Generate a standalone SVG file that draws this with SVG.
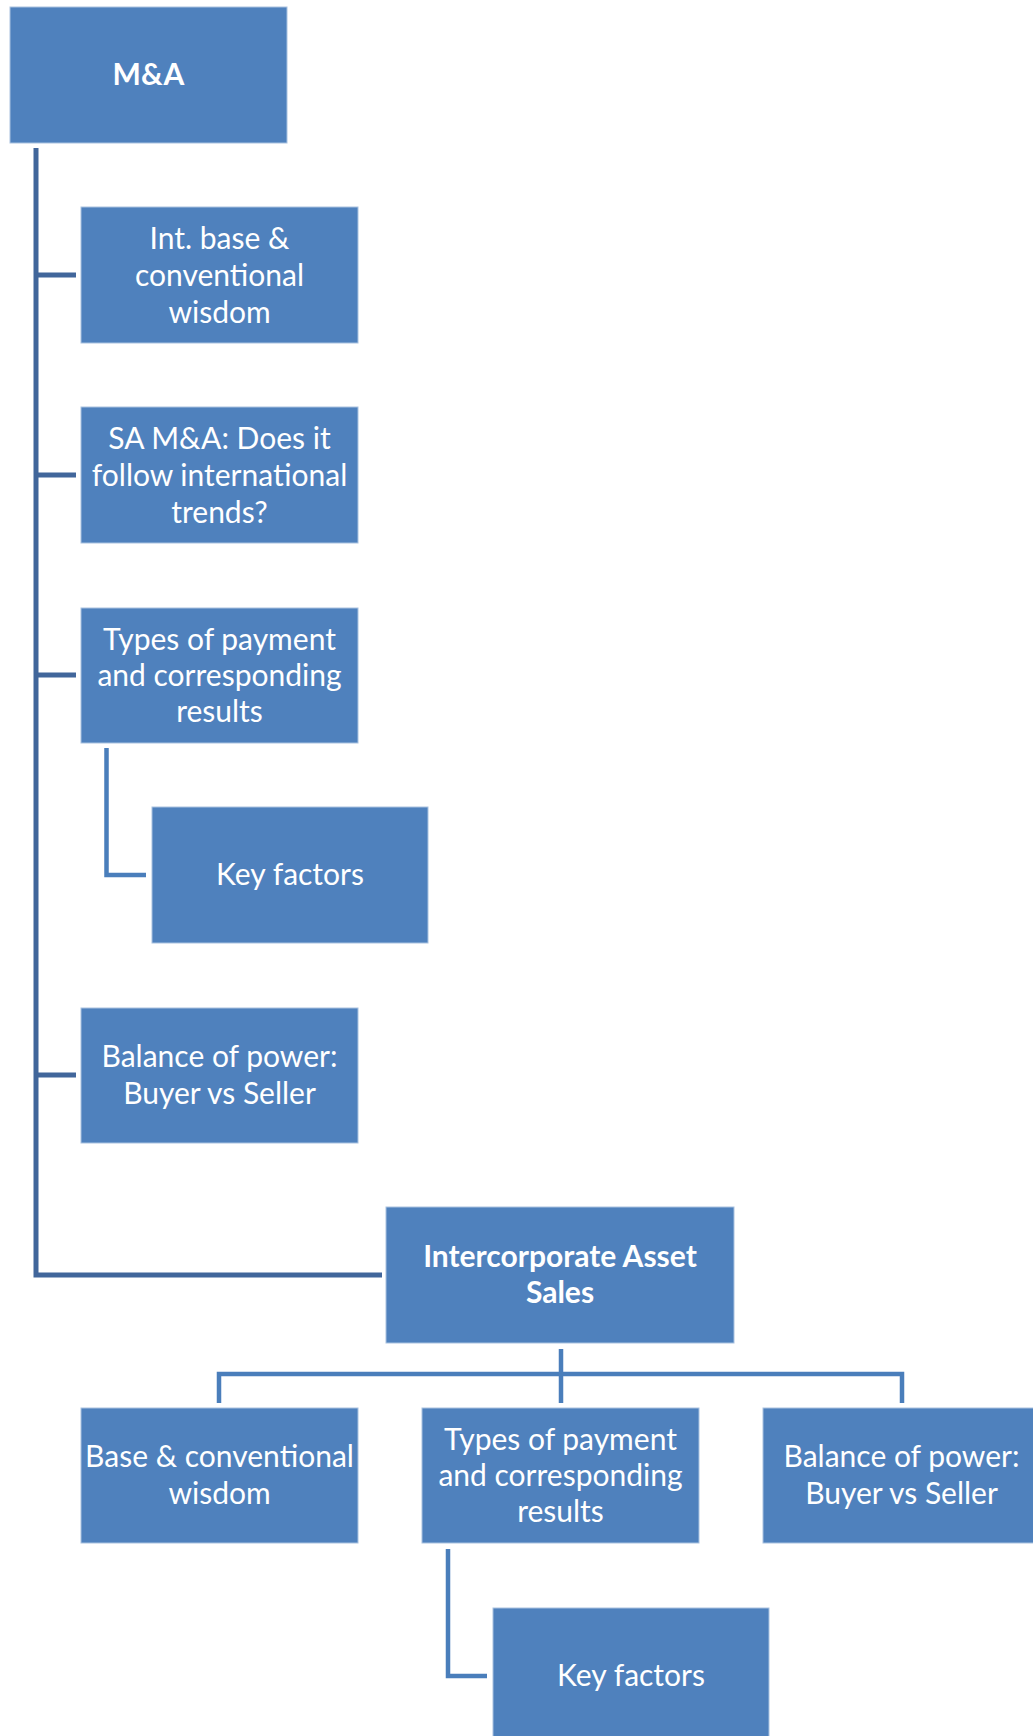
<svg xmlns="http://www.w3.org/2000/svg" width="1033" height="1736" viewBox="0 0 1033 1736">
<style>
.box{fill:#4F81BD;stroke:#A9C2E0;stroke-width:1}
.t{font-family:Lato,"Open Sans","Liberation Sans",sans-serif;font-size:30px;fill:#FFFFFF;text-anchor:middle}
.b{font-weight:bold}
.main{fill:none;stroke:#41669B;stroke-width:5}
.sub{fill:none;stroke:#4A7EBB;stroke-width:4.5}
</style>
<rect width="1033" height="1736" fill="#FFFFFF"/>
<g id="connectors">
<path class="main" d="M36 148 V1275 H382"/>
<path class="main" d="M36 275 H76 M36 475 H76 M36 675 H76 M36 1075 H76"/>
<path class="sub" d="M106.5 748 V875 H146"/>
<path class="sub" d="M561 1349 V1374 M219 1403 V1374 H902 V1403 M561 1374 V1403"/>
<path class="sub" d="M448 1549 V1676 H487"/>
</g>
<g id="n-ma"><rect class="box" x="10" y="7" width="277" height="136"/><text class="t b" x="148.5" y="85">M&amp;A</text></g>
<g id="n-intbase"><rect class="box" x="81" y="207" width="277" height="136"/><text class="t" x="219.5" y="249">Int. base &amp;</text><text class="t" x="219.5" y="286">conventional</text><text class="t" x="219.5" y="323">wisdom</text></g>
<g id="n-sa"><rect class="box" x="81" y="407" width="277" height="136"/><text class="t" x="219.5" y="449">SA M&amp;A: Does it</text><text class="t" x="219.5" y="486">follow international</text><text class="t" x="219.5" y="523">trends?</text></g>
<g id="n-types1"><rect class="box" x="81" y="608" width="277" height="135"/><text class="t" x="219.5" y="650">Types of payment</text><text class="t" x="219.5" y="686">and corresponding</text><text class="t" x="219.5" y="722">results</text></g>
<g id="n-key1"><rect class="box" x="152" y="807" width="276" height="136"/><text class="t" x="290" y="885">Key factors</text></g>
<g id="n-balance1"><rect class="box" x="81" y="1008" width="277" height="135"/><text class="t" x="219.5" y="1067">Balance of power:</text><text class="t" x="219.5" y="1104">Buyer vs Seller</text></g>
<g id="n-ias"><rect class="box" x="386" y="1207" width="348" height="136"/><text class="t b" x="560" y="1267">Intercorporate Asset</text><text class="t b" x="560" y="1303">Sales</text></g>
<g id="n-base2"><rect class="box" x="81" y="1408" width="277" height="135"/><text class="t" x="219.5" y="1467">Base &amp; conventional</text><text class="t" x="219.5" y="1504">wisdom</text></g>
<g id="n-types2"><rect class="box" x="422" y="1408" width="277" height="135"/><text class="t" x="560.5" y="1450">Types of payment</text><text class="t" x="560.5" y="1486">and corresponding</text><text class="t" x="560.5" y="1522">results</text></g>
<g id="n-balance2"><rect class="box" x="763" y="1408" width="277" height="135"/><text class="t" x="901.5" y="1467">Balance of power:</text><text class="t" x="901.5" y="1504">Buyer vs Seller</text></g>
<g id="n-key2"><rect class="box" x="493" y="1608" width="276" height="136"/><text class="t" x="631" y="1686">Key factors</text></g>
</svg>
